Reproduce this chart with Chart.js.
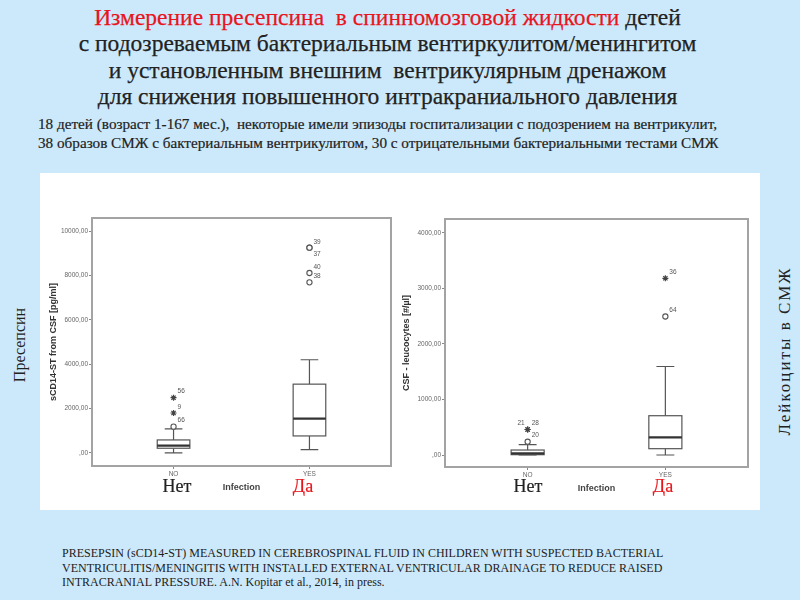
<!DOCTYPE html>
<html>
<head>
<meta charset="utf-8">
<script src="https://cdn.jsdelivr.net/npm/chart.js@4/dist/chart.umd.min.js"></script>
<style>
  body { margin: 0; }
  #slide { position: relative; width: 800px; height: 600px; background: #cce9fb; overflow: hidden;
           font-family: "Liberation Serif", serif; color: #222; }
  #panel { position: absolute; left: 40px; top: 173px; width: 720px; height: 337px; background: #fff; }
  .abs { position: absolute; white-space: nowrap; }
  #title { left: 0; top: 4px; width: 775px; text-align: center; font-size: 23.5px; line-height: 26.3px;
           -webkit-text-stroke: 0.25px #222; }
  #title .red { color: #e8151d; -webkit-text-stroke: 0.25px #e8151d; }
  #sub { left: 38px; top: 114px; font-size: 15.2px; line-height: 19px; -webkit-text-stroke: 0.2px #222; }
  #foot { left: 62px; top: 546px; font-size: 12px; line-height: 14.5px; }
  .side { font-size: 16px; transform: translate(-50%, -50%) rotate(-90deg); }
  .cat { font-size: 18px; transform: translate(-50%, -50%); -webkit-text-stroke: 0.2px #222; }
  .da { color: #e8151d; -webkit-text-stroke: 0.2px #e8151d; }
  canvas { position: absolute; }
</style>
</head>
<body>
<div id="slide">
  <div id="panel"></div>
  <div id="title" class="abs"><span class="red">Измерение пресепсина&nbsp; в спинномозговой жидкости</span> детей<br>с подозреваемым бактериальным вентиркулитом/менингитом<br>и установленным внешним&nbsp; вентрикулярным дренажом<br>для снижения повышенного интракраниального давления</div>
  <div id="sub" class="abs">18 детей (возраст 1-167 мес.),&nbsp; некоторые имели эпизоды госпитализации с подозрением на вентрикулит,<br>38 образов СМЖ с бактериальным вентрикулитом, 30 с отрицательными бактериальными тестами СМЖ</div>
  <canvas id="chartLeft" width="360" height="290" style="left:40px;top:210px"></canvas>
  <canvas id="chartRight" width="360" height="290" style="left:400px;top:211px"></canvas>
  <div class="abs cat" style="left:177px;top:486px">Нет</div>
  <div class="abs cat da" style="left:303px;top:486px">Да</div>
  <div class="abs cat" style="left:528px;top:486px">Нет</div>
  <div class="abs cat da" style="left:663px;top:486px">Да</div>
  <div class="abs side" style="left:20px;top:345px">Пресепсин</div>
  <div class="abs side" style="left:785px;top:351px;font-size:17px;letter-spacing:2px">Лейкоциты в СМЖ</div>
  <div id="foot" class="abs">PRESEPSIN (sCD14-ST) MEASURED IN CEREBROSPINAL FLUID IN CHILDREN WITH SUSPECTED BACTERIAL<br>VENTRICULITIS/MENINGITIS WITH INSTALLED EXTERNAL VENTRICULAR DRAINAGE TO REDUCE RAISED<br>INTRACRANIAL PRESSURE. A.N. Kopitar et al., 2014, in press.</div>
</div>
<script>
// groups on the x axis (0 = NO, 1 = YES)
const groups = ['NO', 'YES'];

// presepsin, sCD14-ST from CSF [pg/ml]
const presepsinTicks = [0, 2000, 4000, 6000, 8000, 10000];
const presepsinLow = [0, 150];
const presepsinQ1 = [210, 765];
const presepsinMedian = [330, 1545];
const presepsinQ3 = [585, 3100];
const presepsinHigh = [1080, 4200];
const presepsinOutGroup = [0, 0, 0, 1, 1, 1, 1];
const presepsinOutValue = [1185, 1800, 2490, 9250, 9250, 8110, 7690];
const presepsinOutKind = ['circle', 'star', 'star', 'circle', 'circle', 'circle', 'circle'];
const presepsinOutId = ['66', '9', '56', '39', '37', '40', '38'];
const presepsinLabelPlace = ['ur', 'ur', 'ur', 'ur', 'dr', 'ur', 'ur'];

// CSF leucocytes [#/µl]
const leucoTicks = [0, 1000, 2000, 3000, 4000];
const leucoLow = [0, 0];
const leucoQ1 = [6, 114];
const leucoMedian = [30, 318];
const leucoQ3 = [90, 708];
const leucoHigh = [186, 1595];
const leucoOutGroup = [0, 0, 0, 1, 1];
const leucoOutValue = [240, 460, 460, 3184, 2495];
const leucoOutKind = ['circle', 'star', 'star', 'star', 'circle'];
const leucoOutId = ['20', '21', '28', '36', '64'];
const leucoLabelPlace = ['ur', 'ul', 'ur', 'ur', 'ur'];

function fmt(v) {
    return v === 0 ? ',00' : v + ',00';
}

// draws the boxes, medians, whiskers and the grey frame
const boxPlugin = {
    id: 'boxplot',
    beforeDatasetsDraw(chart, args, o) {
        const ctx = chart.ctx, x = chart.scales.x, y = chart.scales.y, a = chart.chartArea;
        ctx.save();
        ctx.strokeStyle = '#a3a3a3';
        ctx.lineWidth = 2;
        ctx.strokeRect(a.left, a.top, a.right - a.left, a.bottom - a.top);
        for (let i = 0; i < groups.length; i++) {
            const cx = x.getPixelForValue(i);
            const bl = x.getPixelForValue(i - 0.12), br = x.getPixelForValue(i + 0.12);
            const cl = x.getPixelForValue(i - 0.065), cr = x.getPixelForValue(i + 0.065);
            const pLow = y.getPixelForValue(o.low[i]), pHigh = y.getPixelForValue(o.high[i]);
            const pQ1 = y.getPixelForValue(o.q1[i]), pQ3 = y.getPixelForValue(o.q3[i]);
            const pMed = y.getPixelForValue(o.median[i]);
            ctx.strokeStyle = '#555';
            ctx.lineWidth = 1.2;
            ctx.beginPath();
            ctx.moveTo(cx, pHigh); ctx.lineTo(cx, pQ3);
            ctx.moveTo(cx, pLow); ctx.lineTo(cx, pQ1);
            ctx.moveTo(cl, pHigh); ctx.lineTo(cr, pHigh);
            ctx.moveTo(cl, pLow); ctx.lineTo(cr, pLow);
            ctx.stroke();
            ctx.fillStyle = '#fff';
            ctx.fillRect(bl, pQ3, br - bl, pQ1 - pQ3);
            ctx.strokeRect(bl, pQ3, br - bl, pQ1 - pQ3);
            ctx.strokeStyle = '#333';
            ctx.lineWidth = 2.2;
            ctx.beginPath();
            ctx.moveTo(bl, pMed); ctx.lineTo(br, pMed);
            ctx.stroke();
        }
        ctx.restore();
    },
    afterDatasetsDraw(chart, args, o) {
        const ctx = chart.ctx, x = chart.scales.x, y = chart.scales.y;
        ctx.save();
        ctx.font = '6.5px Arial, "Liberation Sans", sans-serif';
        ctx.fillStyle = '#555';
        ctx.textBaseline = 'middle';
        o.outGroup.forEach((g, i) => {
            const px = x.getPixelForValue(g), py = y.getPixelForValue(o.outValue[i]);
            const p = o.place[i];
            ctx.textAlign = p[1] === 'l' ? 'right' : 'left';
            const dx = p[1] === 'l' ? -3 : 4;
            const dy = p[0] === 'd' ? 6 : -6;
            ctx.fillText(o.outId[i], px + dx, py + dy);
        });
        ctx.restore();
    }
};

function outlierSets(outGroup, outValue, outKind) {
    const circles = [], stars = [];
    outGroup.forEach((g, i) => {
        (outKind[i] === 'star' ? stars : circles).push({ x: g, y: outValue[i] });
    });
    return [
        { data: circles, pointStyle: 'circle', pointRadius: 2.6, pointBorderColor: '#555',
          pointBackgroundColor: '#fff', pointBorderWidth: 1.1, showLine: false },
        { data: stars, pointStyle: 'star', pointRadius: 3, pointBorderColor: '#444',
          pointBackgroundColor: '#444', pointBorderWidth: 1.2, showLine: false }
    ];
}

function makeChart(id, opt) {
    const tickFont = { family: 'Arial, "Liberation Sans", sans-serif', size: 6.5 };
    const titleFont = { family: 'Arial, "Liberation Sans", sans-serif', size: 9, weight: 'bold' };
    return new Chart(document.getElementById(id).getContext('2d'), {
        type: 'scatter',
        data: { datasets: outlierSets(opt.outGroup, opt.outValue, opt.outKind) },
        plugins: [boxPlugin],
        options: {
            responsive: false,
            animation: false,
            devicePixelRatio: 1,
            layout: { padding: { top: 8, right: opt.padRight, left: 0, bottom: 0 } },
            plugins: {
                legend: { display: false },
                tooltip: { enabled: false },
                boxplot: {
                    low: opt.low, q1: opt.q1, median: opt.median, q3: opt.q3, high: opt.high,
                    outGroup: opt.outGroup, outValue: opt.outValue, outId: opt.outId, place: opt.place
                }
            },
            scales: {
                x: {
                    type: 'linear', min: -0.6, max: 1.6,
                    afterBuildTicks: s => { s.ticks = [{ value: 0 }, { value: 1 }]; },
                    afterFit: s => { s.height = 34; },
                    ticks: { callback: v => groups[v], font: tickFont, color: '#666', padding: 1, maxRotation: 0 },
                    grid: { drawOnChartArea: false, tickLength: 3, color: '#888' },
                    border: { display: false },
                    title: { display: true, text: 'Infection', font: titleFont, color: '#444',
                             padding: { top: 0, bottom: 7 } }
                },
                y: {
                    min: opt.yMin, max: opt.yMax,
                    afterBuildTicks: s => { s.ticks = opt.ticks.map(v => ({ value: v })); },
                    afterFit: s => { s.width = opt.axisWidth; },
                    ticks: { callback: v => fmt(v), font: tickFont, color: '#666', padding: 1 },
                    grid: { drawOnChartArea: false, tickLength: 3, color: '#888' },
                    border: { display: false },
                    title: { display: true, text: opt.yTitle, font: titleFont, color: '#333',
                             padding: { top: opt.titlePad, bottom: 0 } }
                }
            }
        }
    });
}

makeChart('chartLeft', {
    ticks: presepsinTicks, yMin: -590, yMax: 10590, axisWidth: 52, padRight: 9, titlePad: 8.5,
    yTitle: 'sCD14-ST from CSF [pg/ml]',
    low: presepsinLow, q1: presepsinQ1, median: presepsinMedian, q3: presepsinQ3, high: presepsinHigh,
    outGroup: presepsinOutGroup, outValue: presepsinOutValue, outKind: presepsinOutKind,
    outId: presepsinOutId, place: presepsinLabelPlace
});

makeChart('chartRight', {
    ticks: leucoTicks, yMin: -216, yMax: 4252, axisWidth: 45, padRight: 12, titlePad: 1.5,
    yTitle: 'CSF - leucocytes [#/µl]',
    low: leucoLow, q1: leucoQ1, median: leucoMedian, q3: leucoQ3, high: leucoHigh,
    outGroup: leucoOutGroup, outValue: leucoOutValue, outKind: leucoOutKind,
    outId: leucoOutId, place: leucoLabelPlace
});
</script>
</body>
</html>
